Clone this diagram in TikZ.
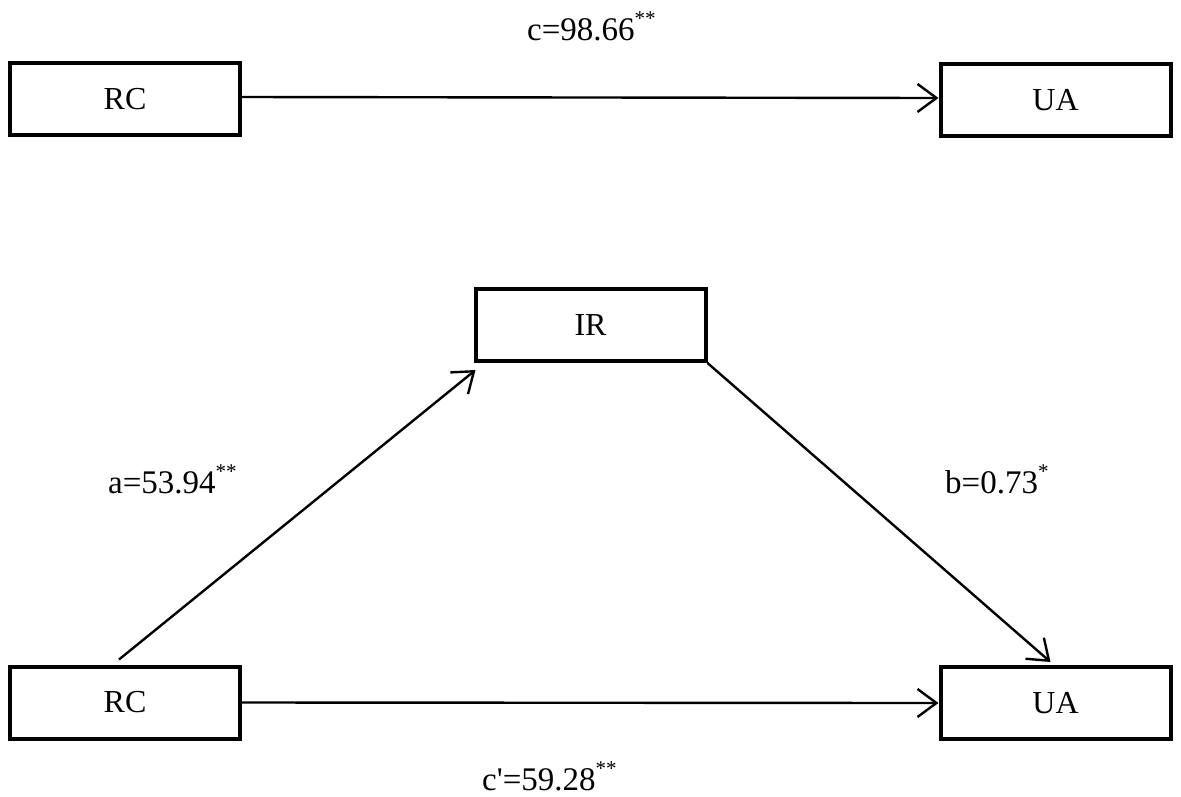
\documentclass[tikz,border=0pt]{standalone}
\usepackage{fontspec}
\setmainfont{Liberation Serif}[Ligatures=TeXOff]
\usetikzlibrary{arrows.meta}
\newcommand{\supstar}[1]{\raisebox{15pt}{\fontsize{21}{24}\selectfont #1}}
\begin{document}
\begin{tikzpicture}[x=1pt,y=-1pt,
  box/.style={draw, line width=4pt, minimum width=230pt, minimum height=72pt, inner sep=0pt,
    font=\fontsize{32}{38}\selectfont},
  arr/.style={line width=2.4pt, -{Straight Barb[length=19pt,width=28pt,line width=2.4pt]}},
  lab/.style={anchor=base west, inner sep=0pt, font=\fontsize{33}{40}\selectfont}]
\useasboundingbox (0,0) rectangle (1181,796);
\node[box] (rc1) at (125,99) {RC};
\node[box] (ua1) at (1055.5,100) {UA};
\node[box] (ir) at (590.5,325) {IR};
\node[box] (rc2) at (125,702.5) {RC};
\node[box] (ua2) at (1055.5,703) {UA};
\draw[arr] ([yshift=2pt]rc1.east) -- ([yshift=2pt]ua1.west);
\draw[arr] (rc2.east) -- (ua2.west);
\draw[arr] ([xshift=-6pt,yshift=5pt]rc2.north) -- ([xshift=2pt,yshift=-7pt]ir.south west);
\draw[arr] (ir.south east) -- ([xshift=-5pt,yshift=3pt]ua2.north);
\node[lab] (lc) at (527,40) {c=98.66\supstar{**}};
\node[lab] (la) at (108,493) {a=53.94\supstar{**}};
\node[lab] (lb) at (945,493) {b=0.73\supstar{*}};
\node[lab] (lcp) at (482,790) {c'=59.28\supstar{**}};
\end{tikzpicture}
\end{document}
